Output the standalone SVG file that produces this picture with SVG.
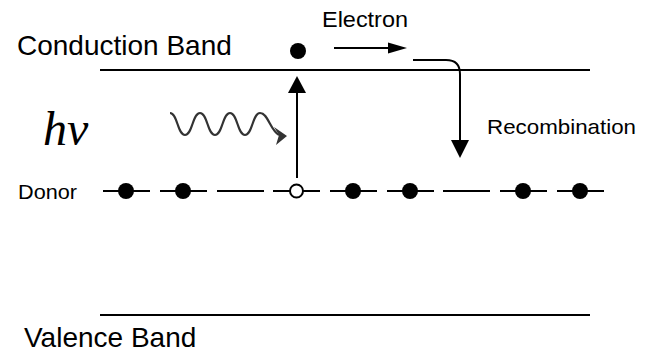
<svg xmlns="http://www.w3.org/2000/svg" width="646" height="354" viewBox="0 0 646 354">
<style>
.t{font-family:"Liberation Sans",Arial,sans-serif;fill:#000}
.band{stroke:#000;stroke-width:2;fill:none}
.seg{stroke:#000;stroke-width:2}
.dot{fill:#000}
.hole{fill:#fff;stroke:#000;stroke-width:2}
.ln{stroke:#000;stroke-width:2;fill:none}
</style>
<rect width="646" height="354" fill="#fff"/>
<g id="conduction-band">
<line class="band" x1="100" y1="70" x2="590" y2="70"/>
<text class="t" x="17" y="55" font-size="28">Conduction Band</text>
</g>
<g id="valence-band">
<line class="band" x1="100" y1="315" x2="590" y2="315"/>
<text class="t" x="24" y="347" font-size="28">Valence Band</text>
</g>
<g id="electron">
<circle class="dot" cx="298" cy="51" r="8"/>
<text class="t" x="322" y="27" font-size="22" textLength="86" lengthAdjust="spacingAndGlyphs">Electron</text>
</g>
<g id="photon">
<text x="43" y="145" font-family="'Liberation Serif','Times New Roman',serif" font-style="italic" font-size="48">hν</text>
<path d="M170,113 C177.5,113 177.5,135 185,135 C192.5,135 192.5,113 200,113 C207.5,113 207.5,135 215,135 C222.5,135 222.5,113 230,113 C237.5,113 237.5,135 245,135 C252.5,135 252.5,113 260,113 C268,113 270,130 279,135" fill="none" stroke="#333" stroke-width="2.2"/>
<polygon points="287,136 274,127 279,135 276,145" fill="#333"/>
</g>
<g id="donor">
<text class="t" x="18" y="199" font-size="21" textLength="59" lengthAdjust="spacingAndGlyphs">Donor</text>
<g id="d1"><line class="seg" x1="103" y1="191" x2="150" y2="191"/><circle class="dot" cx="126" cy="191" r="8"/></g>
<g id="d2"><line class="seg" x1="160" y1="191" x2="207" y2="191"/><circle class="dot" cx="183" cy="191" r="8"/></g>
<g id="d3"><line class="seg" x1="217" y1="191" x2="264" y2="191"/></g>
<g id="d4"><line class="seg" x1="273" y1="191" x2="320" y2="191"/><circle class="hole" cx="296.5" cy="191" r="6.5"/></g>
<g id="d5"><line class="seg" x1="330" y1="191" x2="377" y2="191"/><circle class="dot" cx="353" cy="191" r="8"/></g>
<g id="d6"><line class="seg" x1="387" y1="191" x2="434" y2="191"/><circle class="dot" cx="410" cy="191" r="8"/></g>
<g id="d7"><line class="seg" x1="443" y1="191" x2="490" y2="191"/></g>
<g id="d8"><line class="seg" x1="500" y1="191" x2="547" y2="191"/><circle class="dot" cx="523" cy="191" r="8"/></g>
<g id="d9"><line class="seg" x1="557" y1="191" x2="604" y2="191"/><circle class="dot" cx="580" cy="191" r="8"/></g>
</g>
<g id="recombination-label">
<text class="t" x="487" y="134" font-size="21" textLength="149" lengthAdjust="spacingAndGlyphs">Recombination</text>
</g>
<g id="connectors">
<line class="ln" x1="297" y1="178" x2="297" y2="92"/>
<polygon points="297,76 288,93 306,93"/>
<line class="ln" x1="334" y1="48" x2="390" y2="48"/>
<polygon points="407,48 388,42.5 388,53.5"/>
<path class="ln" d="M413,60 H446 Q460,60 460,74 V142"/>
<polygon points="460,158 451,140 469,140"/>
</g>
</svg>
